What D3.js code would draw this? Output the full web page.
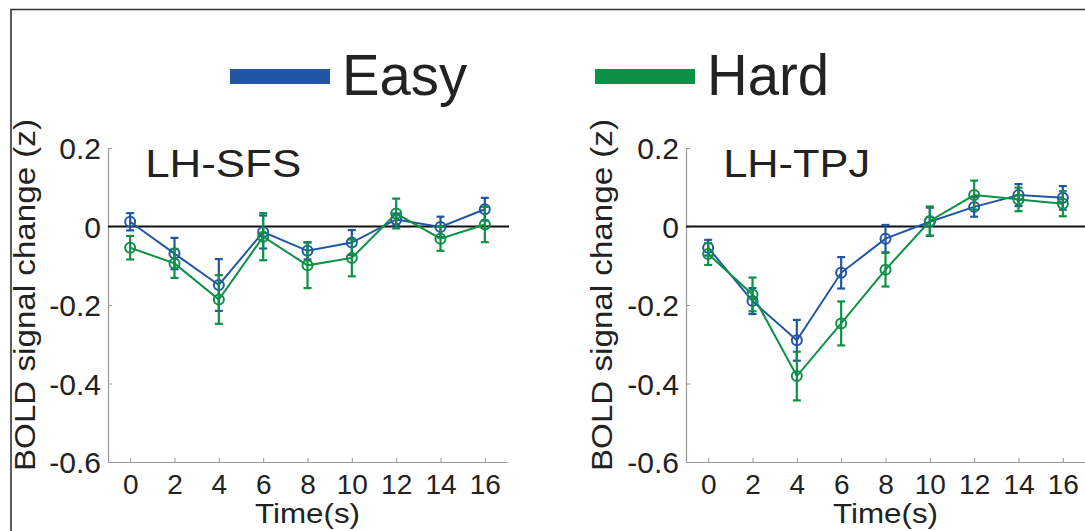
<html>
<head>
<meta charset="utf-8">
<script src="https://cdnjs.cloudflare.com/ajax/libs/d3/7.8.5/d3.min.js"></script>
<style>
  body { margin: 0; background: #fff; }
  svg { display: block; font-family: "Liberation Sans", Arial, sans-serif; }
</style>
</head>
<body>
<svg id="chart" width="1085" height="531"></svg>
<script>
// time points (s)
var times = [0, 2, 4, 6, 8, 10, 12, 14, 16];
var yTicks = [-0.6, -0.4, -0.2, 0, 0.2];
var seriesNames = ["Easy", "Hard"];
var seriesColors = ["#2156a5", "#0c9146"];

// LH-SFS
var sfsEasy    = [0.012, -0.069, -0.149, -0.014, -0.062, -0.041, 0.018, -0.001, 0.044];
var sfsEasyErr = [0.022, 0.040, 0.066, 0.042, 0.022, 0.032, 0.015, 0.026, 0.029];
var sfsHard    = [-0.054, -0.094, -0.186, -0.026, -0.099, -0.080, 0.033, -0.031, 0.005];
var sfsHardErr = [0.030, 0.037, 0.062, 0.060, 0.058, 0.047, 0.038, 0.031, 0.045];

// LH-TPJ
var tpjEasy    = [-0.054, -0.190, -0.290, -0.118, -0.031, 0.012, 0.050, 0.080, 0.073];
var tpjEasyErr = [0.020, 0.033, 0.052, 0.040, 0.035, 0.036, 0.025, 0.028, 0.030];
var tpjHard    = [-0.070, -0.173, -0.381, -0.247, -0.110, 0.014, 0.080, 0.069, 0.058];
var tpjHardErr = [0.028, 0.043, 0.062, 0.056, 0.043, 0.037, 0.037, 0.030, 0.032];

var svg = d3.select("#chart");

// frame
svg.append("path")
  .attr("d", "M11,1100 L11,9.5 L1100,9.5")
  .attr("fill", "none")
  .attr("stroke", "#333")
  .attr("stroke-width", 1.6);

// legend
var legX = [230, 595];
seriesNames.forEach(function(name, i){
  svg.append("rect")
    .attr("x", legX[i]).attr("y", 69)
    .attr("width", 100).attr("height", 15)
    .attr("fill", seriesColors[i]);
  svg.append("text")
    .attr("x", legX[i] + 112).attr("y", 95)
    .attr("font-size", 58)
    .attr("fill", "#222")
    .attr("textLength", i == 0 ? 125 : 122)
    .attr("lengthAdjust", "spacingAndGlyphs")
    .text(name);
});

var panels = [
  {title: "LH-SFS", left: 108, right: 507, lab: 25,  easy: sfsEasy, easyErr: sfsEasyErr, hard: sfsHard, hardErr: sfsHardErr},
  {title: "LH-TPJ", left: 686, right: 1085, lab: 602, easy: tpjEasy, easyErr: tpjEasyErr, hard: tpjHard, hardErr: tpjHardErr}
];

var y = d3.scaleLinear().domain([-0.6, 0.2]).range([462, 148]);

panels.forEach(function(p){
  var x = d3.scaleLinear().domain([-1, 17]).range([p.left, p.right]);
  var g = svg.append("g");

  // x axis
  var xa = g.append("g")
    .attr("transform", "translate(0," + y(-0.6) + ")")
    .call(d3.axisBottom(x).tickValues(times).tickSize(-4).tickSizeOuter(0).tickPadding(10));
  xa.selectAll("text").attr("font-size", 28).attr("fill", "#222").attr("dy", "0.72em").attr("y", 12);

  // y axis (plain hyphen for minus, as in the original)
  var ya = g.append("g")
    .attr("transform", "translate(" + p.left + ",0)")
    .call(d3.axisLeft(y).tickValues(yTicks).tickSize(-4).tickSizeOuter(0)
      .tickFormat(function(d){ return d == 0 ? "0" : d.toFixed(1); }));
  ya.selectAll("text").attr("font-size", 30).attr("fill", "#222").attr("x", -7).attr("dy", "0.36em");

  [xa, ya].forEach(function(a){
    a.select(".domain").attr("stroke", "#999").attr("stroke-width", 1.2);
    a.selectAll(".tick line").attr("stroke", "#999");
  });

  // zero line
  g.append("line")
    .attr("x1", p.left).attr("x2", p.right + 2)
    .attr("y1", y(0)).attr("y2", y(0))
    .attr("stroke", "#111").attr("stroke-width", 2);

  // title
  g.append("text")
    .attr("x", x(0) + 15).attr("y", 177)
    .attr("font-size", 38).attr("fill", "#222")
    .attr("textLength", p.title == "LH-SFS" ? 156 : 147)
    .attr("lengthAdjust", "spacingAndGlyphs")
    .text(p.title);

  // axis labels
  g.append("text")
    .attr("x", x(8)).attr("y", 523)
    .attr("text-anchor", "middle")
    .attr("font-size", 28).attr("fill", "#222")
    .attr("textLength", 105).attr("lengthAdjust", "spacingAndGlyphs")
    .text("Time(s)");
  g.append("text")
    .attr("transform", "translate(" + (p.lab + 10) + ",295) rotate(-90)")
    .attr("text-anchor", "middle")
    .attr("font-size", 30).attr("fill", "#222")
    .attr("textLength", 352).attr("lengthAdjust", "spacingAndGlyphs")
    .text("BOLD signal change (z)");

  // series
  var sets = [[p.easy, p.easyErr], [p.hard, p.hardErr]];
  sets.forEach(function(s, k){
    var col = seriesColors[k];
    var pts = times.map(function(t, i){ return {t: t, v: s[0][i], e: s[1][i]}; });
    var line = d3.line().x(function(d){ return x(d.t); }).y(function(d){ return y(d.v); });
    g.append("path").datum(pts)
      .attr("d", line)
      .attr("fill", "none").attr("stroke", col).attr("stroke-width", 2);

    var eb = g.append("g").selectAll("g").data(pts).enter().append("g")
      .attr("stroke", col).attr("stroke-width", 2.2);
    eb.append("line")
      .attr("x1", function(d){ return x(d.t); }).attr("x2", function(d){ return x(d.t); })
      .attr("y1", function(d){ return y(d.v + d.e); }).attr("y2", function(d){ return y(d.v - d.e); });
    eb.append("line")
      .attr("x1", function(d){ return x(d.t) - 4; }).attr("x2", function(d){ return x(d.t) + 4; })
      .attr("y1", function(d){ return y(d.v + d.e); }).attr("y2", function(d){ return y(d.v + d.e); });
    eb.append("line")
      .attr("x1", function(d){ return x(d.t) - 4; }).attr("x2", function(d){ return x(d.t) + 4; })
      .attr("y1", function(d){ return y(d.v - d.e); }).attr("y2", function(d){ return y(d.v - d.e); });

    g.append("g").selectAll("circle").data(pts).enter().append("circle")
      .attr("cx", function(d){ return x(d.t); })
      .attr("cy", function(d){ return y(d.v); })
      .attr("r", 5)
      .attr("fill", "none").attr("stroke", col).attr("stroke-width", 2);
  });
});
</script>
</body>
</html>
